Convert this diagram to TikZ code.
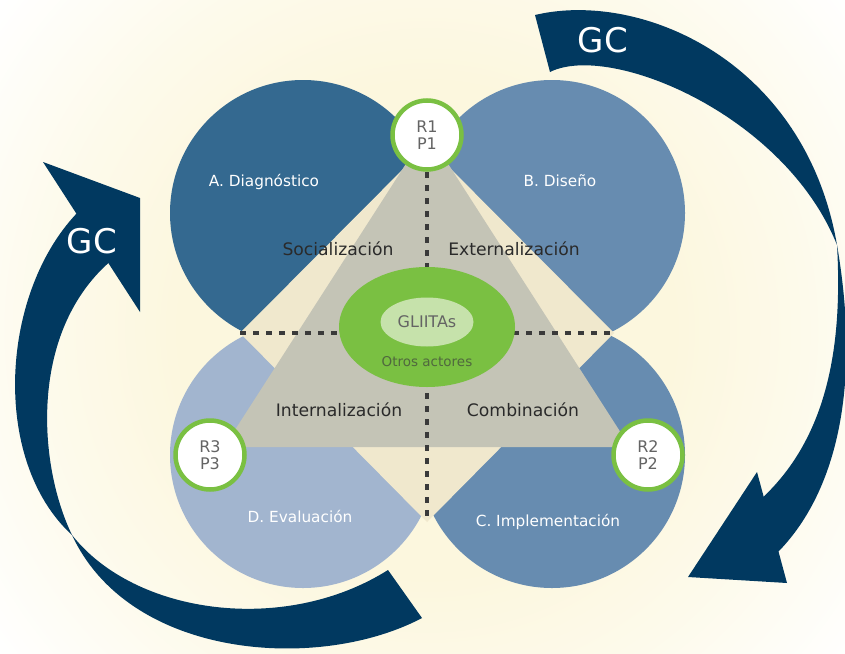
\documentclass[tikz,border=0pt]{standalone}
\usepackage{fontspec}
\setmainfont{DejaVu Sans}
\usepackage{xcolor}
\usetikzlibrary{shapes.geometric}
\definecolor{navy}{RGB}{1,57,96}
\definecolor{diagblue}{RGB}{52,105,144}
\definecolor{midblue}{RGB}{103,140,176}
\definecolor{paleblue}{RGB}{162,181,207}
\definecolor{sand}{RGB}{240,232,205}
\definecolor{stone}{RGB}{196,196,182}
\definecolor{leaf}{RGB}{122,192,66}
\definecolor{paleleaf}{RGB}{198,226,171}
\definecolor{cream}{RGB}{252,247,222}
\definecolor{ink}{RGB}{42,42,42}
\definecolor{dashgray}{RGB}{58,58,58}
\definecolor{rgray}{RGB}{100,100,100}
\definecolor{moss}{RGB}{80,104,62}
\pgfdeclareradialshading{glow}{\pgfpoint{0bp}{0bp}}{color(0bp)=(cream); color(11bp)=(cream); color(17bp)=(cream!60!white); color(24bp)=(white); color(50bp)=(white)}

\begin{document}
\begin{tikzpicture}[x=1pt,y=-1pt]
	\tikzstyle{lobe} = [circle,minimum size=266,inner sep=0]
	\tikzstyle{stage} = [circle,fill=white,draw=leaf,line width=4.5pt,minimum size=69,inner sep=0,align=center,text=rgray,font=\fontsize{16}{16.5}\selectfont]
	\tikzstyle{phase} = [anchor=base,text=white,font=\fontsize{15.3}{18}\selectfont]
	\tikzstyle{knowledge} = [anchor=base,text=ink,font=\fontsize{17.2}{20}\selectfont]
	\tikzstyle{gclabel} = [anchor=base,text=white,font=\fontsize{34}{40}\selectfont]
	\tikzstyle{band} = [fill=navy]
	\tikzstyle{crossline} = [draw=dashgray,line width=4.5pt,dash pattern=on 6pt off 7pt]
	
	\useasboundingbox (0,0) rectangle (845,653);
	\begin{scope}
	\clip (0,0) rectangle (845,653);
	\fill[white] (0,0) rectangle (845,653);
	\shade[shading=glow] (427,330) circle (560);
	\fill[band] (43,162) -- (140,198) -- (140,312) -- cycle;
	\fill[band] (80,210) .. controls (0,290) and (-10,460) .. (72,535)
		.. controls (38,465) and (28,330) .. (113,259) -- cycle;
	\fill[band] (72,535) .. controls (135,615) and (285,635) .. (388,570)
		-- (422,618) .. controls (320,672) and (130,660) .. (72,535) -- cycle;
	\fill[band] (688,577) -- (757,472) -- (787,583) -- cycle;
	\fill[band] (535,15) .. controls (640,-10) and (805,60) .. (837,245)
		.. controls (785,115) and (610,42) .. (550,72) -- cycle;
	\fill[band] (837,245) .. controls (843,350) and (826,440) .. (760,500)
		-- (777,553) .. controls (835,495) and (862,390) .. (837,245) -- cycle;
	\end{scope}
	\node[gclabel] (gcright) at (603,52) {GC};
	\node[gclabel] (gcleft) at (92,253) {GC};
	
	\node[lobe,fill=diagblue] (diag) at (303,213) {};
	\node[lobe,fill=midblue] (design) at (552,213) {};
	\node[lobe,fill=midblue] (impl) at (552,455) {};
	\node[lobe,fill=paleblue] (eval) at (303,455) {};
	
	\coordinate (west) at (240,333);
	\coordinate (north) at (427,145);
	\coordinate (east) at (614,333);
	\coordinate (south) at (427,522);
	\fill[sand] (west) -- (north) -- (east) -- (south) -- cycle;
	\fill[stone] (427,131) -- (224,447) -- (630,447) -- cycle;
	
	\draw[crossline] (west) -- (east);
	\draw[crossline] (427,172) -- (427,520);
	
	\node[ellipse,fill=leaf,minimum width=176,minimum height=120,inner sep=0] (actors) at (427,327) {};
	\node[ellipse,fill=paleleaf,minimum width=93,minimum height=49,inner sep=0] (gliitas) at (427,322) {};
	\node[anchor=base,text=rgray,font=\fontsize{16}{18}\selectfont] (gliitastext) at (427,327.5) {GLIITAs};
	\node[anchor=base,text=moss,font=\fontsize{13.5}{16}\selectfont] (otros) at (427,366) {Otros actores};
	
	\node[stage] (r1) at (427,135) {R1\\P1};
	\node[stage] (r2) at (648,455) {R2\\P2};
	\node[stage] (r3) at (210,455) {R3\\P3};
	
	\node[phase] (diaglabel) at (264,186) {A. Diagnóstico};
	\node[phase] (designlabel) at (560,186) {B. Diseño};
	\node[phase] (impllabel) at (548,526) {C. Implementación};
	\node[phase] (evallabel) at (300,522) {D. Evaluación};
	
	\node[knowledge] (soc) at (338,255) {Socialización};
	\node[knowledge] (ext) at (514,255) {Externalización};
	\node[knowledge] (int) at (339,416) {Internalización};
	\node[knowledge] (comb) at (523,416) {Combinación};
\end{tikzpicture}
\end{document}
